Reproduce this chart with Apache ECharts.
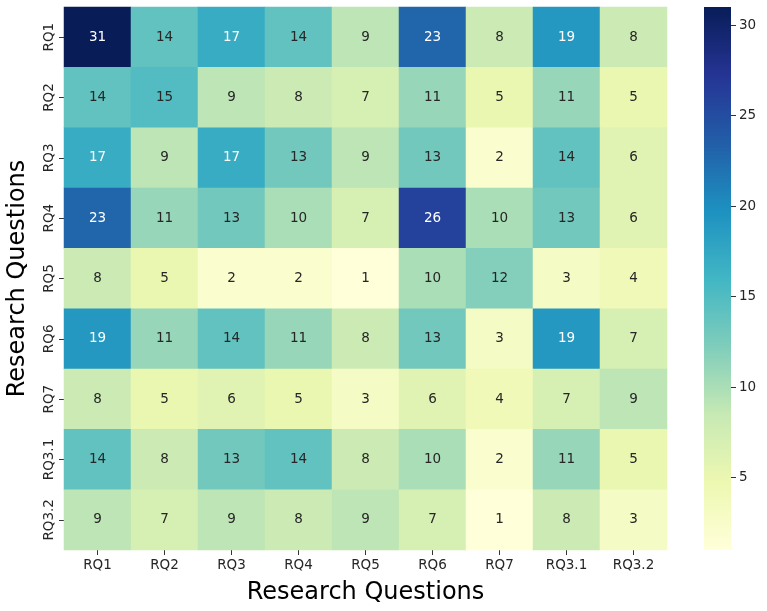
<!DOCTYPE html>
<html>
<head>
<meta charset="utf-8">
<title>Research Questions heatmap</title>
<script src="https://cdn.jsdelivr.net/npm/echarts@6/dist/echarts.min.js"></script>
<style>
  html, body { margin: 0; padding: 0; background: #fff; }
  #chart { width: 767px; height: 611px; }
</style>
</head>
<body>
<div id="chart"></div>
<script>
// categories (same for both axes)
var questions = ['RQ1', 'RQ2', 'RQ3', 'RQ4', 'RQ5', 'RQ6', 'RQ7', 'RQ3.1', 'RQ3.2'];

// one row per y category, read left to right
var rowRQ1  = [31, 14, 17, 14, 9, 23, 8, 19, 8];
var rowRQ2  = [14, 15, 9, 8, 7, 11, 5, 11, 5];
var rowRQ3  = [17, 9, 17, 13, 9, 13, 2, 14, 6];
var rowRQ4  = [23, 11, 13, 10, 7, 26, 10, 13, 6];
var rowRQ5  = [8, 5, 2, 2, 1, 10, 12, 3, 4];
var rowRQ6  = [19, 11, 14, 11, 8, 13, 3, 19, 7];
var rowRQ7  = [8, 5, 6, 5, 3, 6, 4, 7, 9];
var rowRQ31 = [14, 8, 13, 14, 8, 10, 2, 11, 5];
var rowRQ32 = [9, 7, 9, 8, 9, 7, 1, 8, 3];

var colorbarTicks = [5, 10, 15, 20, 25, 30];
var vMin = 1, vMax = 31;

var rows = [rowRQ1, rowRQ2, rowRQ3, rowRQ4, rowRQ5, rowRQ6, rowRQ7, rowRQ31, rowRQ32];

// YlGnBu
var ylgnbu = ['#ffffd9', '#edf8b1', '#c7e9b4', '#7fcdbb', '#41b6c4', '#1d91c0', '#225ea8', '#253494', '#081d58'];

var font = 'DejaVu Sans';
var cells = [];
rows.forEach(function (row, y) {
    row.forEach(function (v, x) {
        cells.push({
            value: [x, y, v],
            label: { color: v >= 16 ? '#ffffff' : '#262626' }
        });
    });
});

// colorbar gradient, bottom (min) to top (max)
var barStops = ylgnbu.map(function (c, i) {
    return { offset: i / (ylgnbu.length - 1), color: c };
});

var chart = echarts.init(document.getElementById('chart'));
chart.setOption({
    animation: false,
    grid: [
        { left: 64, top: 7, width: 603, height: 543, outerBoundsMode: 'none' },
        {
            left: 704, top: 7, width: 27, height: 543, outerBoundsMode: 'none',
            show: true, borderWidth: 0,
            backgroundColor: new echarts.graphic.LinearGradient(0, 1, 0, 0, barStops)
        }
    ],
    xAxis: [
        {
            type: 'category', gridIndex: 0, data: questions,
            axisLine: { show: false },
            axisTick: { show: true, alignWithLabel: true, length: 5, lineStyle: { color: '#333' } },
            axisLabel: { fontFamily: font, fontSize: 13.5, color: '#262626', margin: 8 },
            splitLine: { show: false },
            name: 'Research Questions', nameLocation: 'middle', nameGap: 31, nameMoveOverlap: false,
            nameTextStyle: { fontFamily: font, fontSize: 24, color: '#000' }
        },
        { type: 'value', gridIndex: 1, show: false, min: 0, max: 1 }
    ],
    yAxis: [
        {
            type: 'category', gridIndex: 0, data: questions, inverse: true,
            axisLine: { show: false },
            axisTick: { show: true, alignWithLabel: true, length: 5, lineStyle: { color: '#333' } },
            axisLabel: { fontFamily: font, fontSize: 13.5, color: '#262626', rotate: 90, margin: 8 },
            splitLine: { show: false },
            name: 'Research Questions', nameLocation: 'middle', nameGap: 34, nameRotate: 90, nameMoveOverlap: false,
            nameTextStyle: { fontFamily: font, fontSize: 24, color: '#000' }
        },
        {
            type: 'value', gridIndex: 1, position: 'right', min: vMin, max: vMax,
            axisLine: { show: false, onZero: false },
            axisTick: { show: true, inside: false, length: 5, customValues: colorbarTicks, lineStyle: { color: '#333' } },
            axisLabel: { fontFamily: font, fontSize: 13.5, color: '#262626', margin: 8, customValues: colorbarTicks },
            splitLine: { show: false }
        }
    ],
    visualMap: {
        type: 'continuous', min: vMin, max: vMax, show: false,
        seriesIndex: 0,
        inRange: { color: ylgnbu }
    },
    series: [{
        type: 'heatmap',
        xAxisIndex: 0, yAxisIndex: 0,
        data: cells,
        label: { show: true, fontFamily: font, fontSize: 13.5 },
        itemStyle: { borderWidth: 0 },
        emphasis: { disabled: true }
    }]
});
</script>
</body>
</html>
